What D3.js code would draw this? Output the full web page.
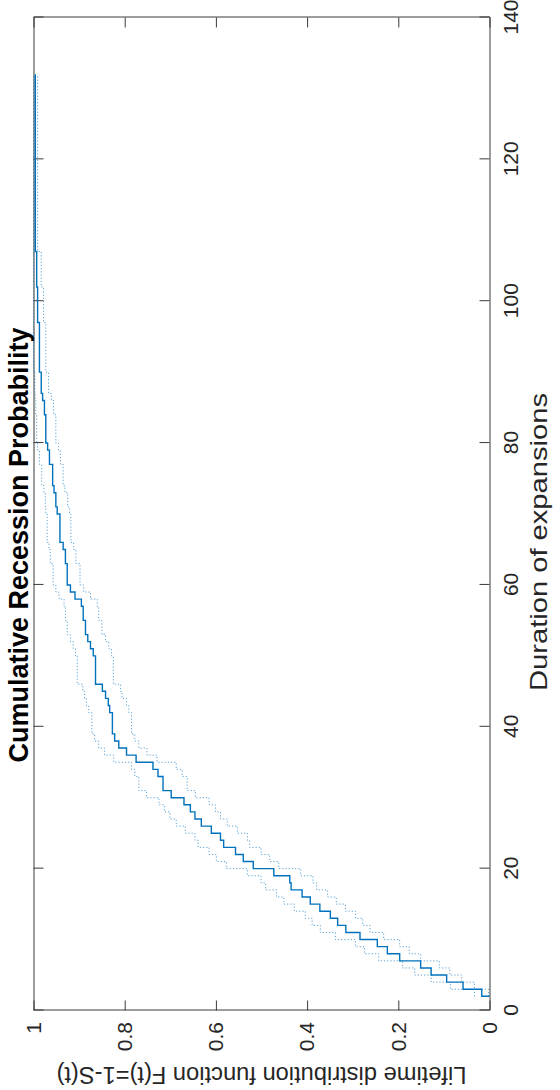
<!DOCTYPE html>
<html>
<head>
<meta charset="utf-8">
<script src="https://cdn.jsdelivr.net/npm/d3@7"></script>
<style>
  html, body { margin: 0; padding: 0; background: #fff; }
  svg { display: block; }
  text { font-family: "Liberation Sans", Arial, Helvetica, sans-serif; }
</style>
</head>
<body>
<svg id="chart" width="560" height="1090"></svg>
<script>
// Event durations where the empirical CDF jumps
const durations = [2, 3, 4, 5, 6, 7, 8, 9, 10, 11, 12, 13, 14, 15, 16, 17, 18, 19, 20, 21,
  22, 23, 24, 25, 26, 27, 28, 29, 30, 31, 33, 34, 35, 36, 37, 38, 39, 42, 43, 44,
  45, 46, 50, 51, 52, 53, 55, 57, 58, 59, 60, 63, 65, 66, 70, 71, 73, 74, 77, 79,
  80, 84, 86, 87, 90, 97, 102, 107];

// F(t) = 1 - S(t) just after each jump
const cdf = [0.017, 0.058, 0.094, 0.128, 0.151, 0.197, 0.224, 0.246, 0.284, 0.315,
  0.333, 0.349, 0.372, 0.393, 0.411, 0.435, 0.438, 0.473, 0.518, 0.540,
  0.557, 0.583, 0.590, 0.610, 0.632, 0.646, 0.656, 0.670, 0.698, 0.716,
  0.727, 0.738, 0.775, 0.796, 0.813, 0.822, 0.827, 0.833, 0.836, 0.842,
  0.849, 0.864, 0.869, 0.875, 0.881, 0.886, 0.891, 0.895, 0.909, 0.919,
  0.926, 0.930, 0.935, 0.942, 0.948, 0.951, 0.955, 0.958, 0.965, 0.969,
  0.973, 0.976, 0.980, 0.983, 0.987, 0.991, 0.993, 0.996];

// Upper confidence bound on each interval
const upper = [0.033, 0.086, 0.128, 0.164, 0.191, 0.243, 0.274, 0.294, 0.338, 0.371,
  0.389, 0.404, 0.428, 0.451, 0.467, 0.491, 0.501, 0.531, 0.577, 0.599,
  0.615, 0.639, 0.646, 0.667, 0.687, 0.701, 0.713, 0.725, 0.752, 0.769,
  0.778, 0.785, 0.824, 0.844, 0.857, 0.866, 0.872, 0.879, 0.884, 0.888,
  0.892, 0.904, 0.908, 0.913, 0.919, 0.926, 0.930, 0.933, 0.944, 0.951,
  0.957, 0.963, 0.966, 0.970, 0.973, 0.974, 0.977, 0.982, 0.987, 0.991,
  0.993, 0.995, 0.996, 0.997, 1.000, 1.000, 1.000, 1.000];

// Lower confidence bound on each interval
const lower = [0.002, 0.033, 0.061, 0.087, 0.110, 0.151, 0.176, 0.197, 0.232, 0.262,
  0.278, 0.294, 0.316, 0.336, 0.355, 0.379, 0.387, 0.414, 0.462, 0.482,
  0.501, 0.526, 0.531, 0.553, 0.575, 0.590, 0.601, 0.615, 0.645, 0.663,
  0.674, 0.687, 0.729, 0.751, 0.769, 0.778, 0.785, 0.791, 0.796, 0.806,
  0.809, 0.825, 0.829, 0.835, 0.842, 0.850, 0.857, 0.860, 0.875, 0.890,
  0.898, 0.907, 0.912, 0.918, 0.921, 0.925, 0.931, 0.935, 0.941, 0.945,
  0.951, 0.956, 0.961, 0.967, 0.973, 0.978, 0.983, 0.991];

// Longest observed duration (end of the last step)
const lastDuration = 132;

const xTicks = [0, 20, 40, 60, 80, 100, 120, 140];
const xTickLabels = ["0", "20", "40", "60", "80", "100", "120", "140"];
const yTicks = [0, 0.2, 0.4, 0.6, 0.8, 1];
const yTickLabels = ["0", "0.2", "0.4", "0.6", "0.8", "1"];

const titleText = "Cumulative Recession Probability";
const xLabelText = "Duration of expansions";
const yLabelText = "Lifetime distribution function F(t)=1-S(t)";

// The figure is laid out landscape (1090 x 560) and turned a quarter turn
const FW = 1090;
const svg = d3.select("#chart");
svg.append("rect").attr("width", 560).attr("height", 1090).attr("fill", "#fff");
const fig = svg.append("g").attr("transform", `translate(0,${FW}) rotate(-90)`);

const x = d3.scaleLinear().domain([0, 140]).range([79.5, 1072.5]);
const y = d3.scaleLinear().domain([0, 1]).range([489.5, 33.5]);

const axisColor = "#3a3a3a";
const tickFont = 21;

function styleAxis(g) {
  g.attr("font-family", null);
  g.select(".domain").attr("stroke", axisColor).attr("stroke-width", 1);
  g.selectAll(".tick line").attr("stroke", axisColor).attr("stroke-width", 1);
  g.selectAll(".tick text").attr("fill", "#262626").attr("font-size", tickFont);
}

// Bottom axis: durations
fig.append("g")
  .attr("transform", `translate(0,${y(0)})`)
  .call(d3.axisBottom(x).tickValues(xTicks).tickFormat((d, i) => xTickLabels[i])
    .tickSizeInner(-10).tickSizeOuter(0).tickPadding(14))
  .call(styleAxis);

// Top axis (box, ticks only)
fig.append("g")
  .attr("transform", `translate(0,${y(1)})`)
  .call(d3.axisTop(x).tickValues(xTicks).tickFormat("")
    .tickSizeInner(-10).tickSizeOuter(0))
  .call(styleAxis);

// Left axis: F(t)
fig.append("g")
  .attr("transform", `translate(${x(0)},0)`)
  .call(d3.axisLeft(y).tickValues(yTicks).tickFormat((d, i) => yTickLabels[i])
    .tickSizeInner(-10).tickSizeOuter(0).tickPadding(11.5))
  .call(styleAxis);

// Right axis (box, ticks only)
fig.append("g")
  .attr("transform", `translate(${x(140)},0)`)
  .call(d3.axisRight(y).tickValues(yTicks).tickFormat("")
    .tickSizeInner(-10).tickSizeOuter(0))
  .call(styleAxis);

const stepLine = d3.line()
  .x(d => x(d[0]))
  .y(d => y(d[1]))
  .curve(d3.curveStepAfter);

function boundPoints(vals) {
  const pts = durations.map((d, i) => [d, vals[i]]);
  pts.push([lastDuration, vals[vals.length - 1]]);
  return pts;
}

const cdfPoints = [[durations[0], 0]].concat(durations.map((d, i) => [d, cdf[i]]));
cdfPoints.push([lastDuration, cdf[cdf.length - 1]]);

const blue = "#0072BD";

// Confidence bounds (dotted)
[upper, lower].forEach(vals => {
  fig.append("path")
    .datum(boundPoints(vals))
    .attr("d", stepLine)
    .attr("fill", "none")
    .attr("stroke", blue)
    .attr("stroke-opacity", 0.65)
    .attr("stroke-width", 1)
    .attr("stroke-dasharray", "1.2,2");
});

// Empirical CDF
fig.append("path")
  .datum(cdfPoints)
  .attr("d", stepLine)
  .attr("fill", "none")
  .attr("stroke", blue)
  .attr("stroke-width", 1.4);

// Title
fig.append("text")
  .attr("x", 545)
  .attr("y", 28)
  .attr("text-anchor", "middle")
  .attr("font-weight", "bold")
  .attr("font-size", 27)
  .attr("fill", "#000")
  .text(titleText);

// Duration axis label
fig.append("text")
  .attr("x", 548)
  .attr("y", 547)
  .attr("text-anchor", "middle")
  .attr("font-size", 24.5)
  .attr("textLength", 298)
  .attr("lengthAdjust", "spacingAndGlyphs")
  .attr("fill", "#262626")
  .text(xLabelText);

// F(t) axis label
fig.append("text")
  .attr("transform", `translate(23,${(y(0) + y(1)) / 2}) rotate(-90)`)
  .attr("text-anchor", "middle")
  .attr("font-size", 23.5)
  .attr("textLength", 410)
  .attr("lengthAdjust", "spacingAndGlyphs")
  .attr("fill", "#262626")
  .text(yLabelText);
</script>
</body>
</html>
